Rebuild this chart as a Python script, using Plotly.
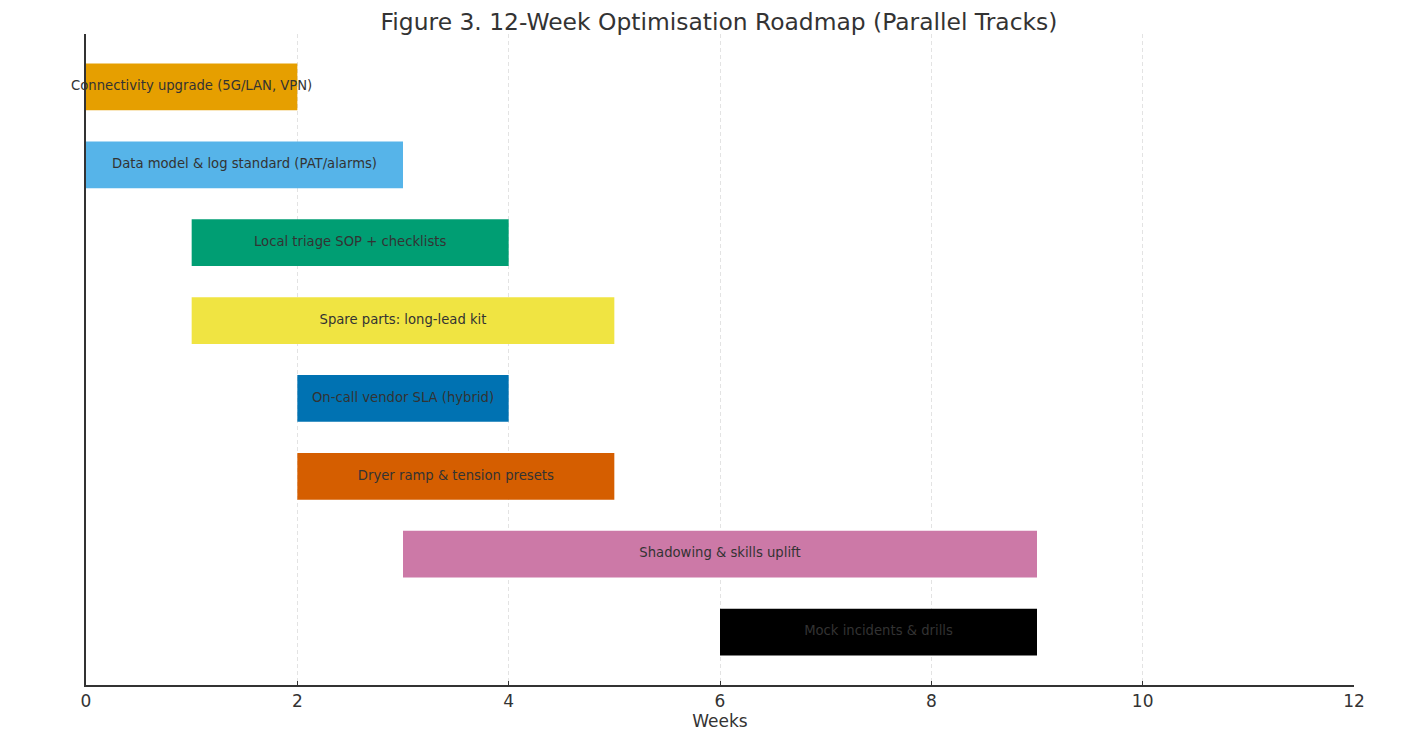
import plotly.graph_objects as go

tasks = [
    "Connectivity upgrade (5G/LAN, VPN)",
    "Data model & log standard (PAT/alarms)",
    "Local triage SOP + checklists",
    "Spare parts: long-lead kit",
    "On-call vendor SLA (hybrid)",
    "Dryer ramp & tension presets",
    "Shadowing & skills uplift",
    "Mock incidents & drills",
]
starts = [0, 0, 1, 1, 2, 2, 3, 6]
durations = [2, 3, 3, 4, 2, 3, 6, 3]
colors = ["#E69F00", "#56B4E9", "#009E73", "#F0E442", "#0072B2", "#D55E00", "#CC79A7", "#000000"]
x_ticks = [0, 2, 4, 6, 8, 10, 12]

ypos = list(range(len(tasks)))
mids = [s + d / 2 for s, d in zip(starts, durations)]

fig = go.Figure()
fig.add_trace(go.Bar(
    y=ypos, x=durations, base=starts, orientation="h",
    marker=dict(color=colors, line=dict(width=0)),
    width=0.6, showlegend=False, hoverinfo="skip",
))
fig.add_trace(go.Scatter(
    y=ypos, x=mids, mode="text", text=tasks,
    textposition="middle center",
    textfont=dict(family="DejaVu Sans", size=13.2, color="#333333"),
    cliponaxis=False, showlegend=False, hoverinfo="skip",
))

fig.update_layout(
    width=1404, height=747,
    margin=dict(l=78, r=58, t=26, b=70),
    plot_bgcolor="white", paper_bgcolor="white",
    font=dict(family="DejaVu Sans", color="#333333"),
    title=dict(text="Figure 3. 12-Week Optimisation Roadmap (Parallel Tracks)",
               x=0.5064, xanchor="center", y=0.981, yanchor="middle",
               font=dict(size=23.4, color="#333333")),
    bargap=0.4,
)
fig.update_xaxes(
    range=[0, 12], tickvals=x_ticks, ticktext=[str(v) for v in x_ticks],
    showgrid=True, gridcolor="#e3e3e3", griddash="4px,3px", gridwidth=0.8,
    showline=True, linecolor="#333333", linewidth=1.5,
    ticks="inside", ticklen=4, tickcolor="#333333",
    tickfont=dict(size=17, color="#333333"),
    title=dict(text="Weeks", font=dict(size=17, color="#333333"), standoff=4),
    zeroline=False, layer="above traces",
)
fig.update_yaxes(
    range=[7.68, -0.68], showticklabels=False, showgrid=False, zeroline=False,
    showline=True, linecolor="#333333", linewidth=1.5, ticks="",
)

fig.write_html("out.html")
